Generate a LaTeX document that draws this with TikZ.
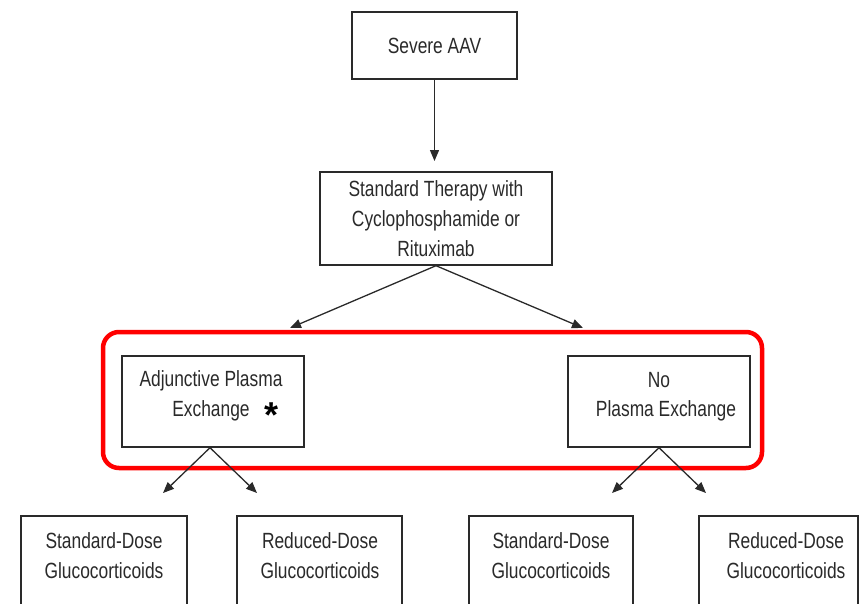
\documentclass[tikz,border=0pt]{standalone}
\usepackage{fontspec}
\setmainfont{Liberation Sans}[FakeStretch=0.79]
\newfontfamily\starfont{Liberation Sans}
\usetikzlibrary{arrows.meta}
\definecolor{ink}{HTML}{2A2A2A}
\tikzset{
  box/.style={draw=ink, line width=1.4pt, inner sep=0pt, fill=white},
  txt/.style={text=ink, align=center, inner sep=0pt, font=\fontsize{22}{30}\selectfont},
  arr/.style={draw=ink, line width=1.3pt, -{Triangle[length=11pt,width=9pt]}},
  hl/.style={draw=red, line width=4.5pt, rounded corners=16pt}
}
\begin{document}
\begin{tikzpicture}[x=1pt,y=-1pt]
\useasboundingbox (0,0) rectangle (859,603);
\clip (0,0) rectangle (859,603);
% top boxes
\node[box, minimum width=165pt, minimum height=67pt] (sev) at (434.5,45.5) {};
\node[txt] (sevt) at (434.5,45.5) {Severe AAV};
\node[box, minimum width=232pt, minimum height=93pt] (std) at (436,218.5) {};
\node[txt] (stdt) at (436,218.5) {Standard Therapy with\\Cyclophosphamide or\\Rituximab};
% middle boxes
\node[box, minimum width=182pt, minimum height=91pt] (ape) at (213,401.5) {};
\node[txt] (apet1) at (211,381) {Adjunctive Plasma};
\node[txt] (apet2) at (211,411) {Exchange};
\node[inner sep=0pt, font=\starfont\fontsize{36}{36}\selectfont\bfseries] (star) at (272,415) {*};
\node[box, minimum width=182pt, minimum height=91pt] (npe) at (659,401.5) {};
\node[txt] (npet1) at (659,380) {No};
\node[txt] (npet2) at (666,411) {Plasma Exchange};
% red highlight
\draw[hl] (103,332) rectangle (762,468);
% bottom boxes
\node[box, minimum width=166pt, minimum height=104pt] (sd1) at (104,568) {};
\node[txt] at (104,556) {Standard-Dose\\Glucocorticoids};
\node[box, minimum width=165pt, minimum height=104pt] (rd1) at (319.5,568) {};
\node[txt] at (320,556) {Reduced-Dose\\Glucocorticoids};
\node[box, minimum width=164pt, minimum height=104pt] (sd2) at (551,568) {};
\node[txt] at (551,556) {Standard-Dose\\Glucocorticoids};
\node[box, minimum width=159pt, minimum height=104pt] (rd2) at (778.5,568) {};
\node[txt] at (786,556) {Reduced-Dose\\Glucocorticoids};
% arrow ends
\coordinate (e1) at (434.5,161);
\coordinate (e2) at (290,328);
\coordinate (e3) at (583,328);
\coordinate (e4) at (163,493);
\coordinate (e5) at (257,493);
\coordinate (e6) at (612,493);
\coordinate (e7) at (706,493);
\draw[arr] (sev.south) -- (e1);
\draw[arr] (std.south) -- (e2);
\draw[arr] (std.south) -- (e3);
\draw[arr] ([xshift=-3pt]ape.south) -- (e4);
\draw[arr] ([xshift=-3pt]ape.south) -- (e5);
\draw[arr] (npe.south) -- (e6);
\draw[arr] (npe.south) -- (e7);
\end{tikzpicture}
\end{document}
